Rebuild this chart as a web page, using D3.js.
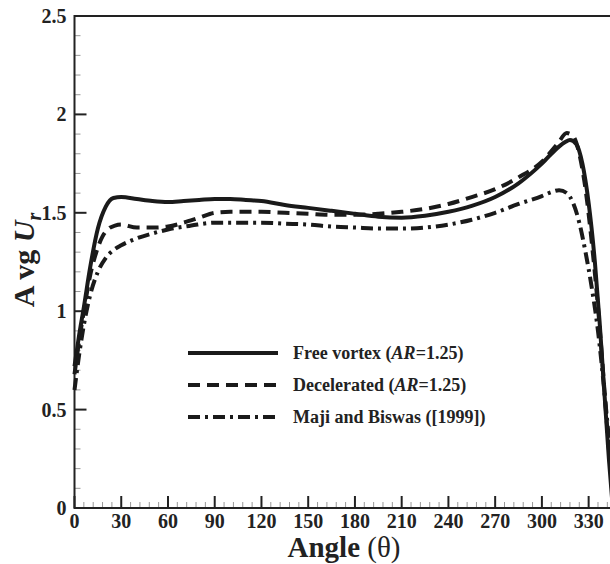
<!DOCTYPE html>
<meta charset="utf-8">
<style>
body { margin: 0; background: white; }
svg { display: block; }
text { font-family: "Liberation Serif", "Times New Roman", serif; font-weight: bold; fill: #222; }
.minor line { stroke: #999; stroke-width: 1px; }
.major line { stroke: #222; stroke-width: 2px; }
</style>
<body>
<script src="https://cdn.jsdelivr.net/npm/d3@7"></script>
<script>
// values (angle in degrees, Avg Ur)
var freeAngles = [0, 3, 6, 10, 15, 20, 25, 30, 40, 50, 60, 70, 80, 90, 100, 110, 120, 135, 150, 165, 180, 195, 210, 225, 240, 255, 270, 285, 300, 310, 315, 318, 322, 326, 330, 334, 337, 340, 343, 345];
var freeVals   = [0.72, 0.88, 1.02, 1.22, 1.42, 1.53, 1.575, 1.58, 1.57, 1.56, 1.555, 1.56, 1.565, 1.57, 1.57, 1.565, 1.56, 1.54, 1.525, 1.51, 1.495, 1.48, 1.475, 1.485, 1.505, 1.535, 1.58, 1.65, 1.75, 1.83, 1.86, 1.87, 1.85, 1.75, 1.55, 1.25, 0.95, 0.6, 0.25, 0.05];

var decelAngles = [0, 3, 6, 10, 14, 18, 22, 26, 30, 40, 50, 60, 70, 80, 90, 100, 110, 120, 135, 150, 165, 180, 195, 210, 225, 240, 255, 270, 285, 300, 310, 316, 320, 324, 328, 332, 336, 339, 342, 345];
var decelVals   = [0.68, 0.85, 1.0, 1.18, 1.3, 1.38, 1.42, 1.435, 1.44, 1.425, 1.425, 1.43, 1.45, 1.475, 1.5, 1.505, 1.505, 1.505, 1.5, 1.495, 1.49, 1.49, 1.495, 1.505, 1.52, 1.545, 1.58, 1.62, 1.68, 1.76, 1.85, 1.905, 1.89, 1.8, 1.62, 1.35, 1.02, 0.72, 0.4, 0.1];

var majiAngles = [0, 3, 6, 10, 15, 20, 25, 30, 40, 50, 60, 75, 90, 105, 120, 135, 150, 165, 180, 195, 210, 225, 240, 255, 270, 285, 300, 306, 311, 316, 320, 324, 328, 332, 336, 340, 343];
var majiVals   = [0.6, 0.78, 0.93, 1.08, 1.2, 1.27, 1.31, 1.335, 1.37, 1.395, 1.415, 1.435, 1.45, 1.45, 1.45, 1.445, 1.44, 1.43, 1.425, 1.42, 1.42, 1.425, 1.44, 1.465, 1.5, 1.545, 1.585, 1.605, 1.615, 1.6, 1.55, 1.45, 1.3, 1.12, 0.9, 0.6, 0.35];

var xTicks = [0, 30, 60, 90, 120, 150, 180, 210, 240, 270, 300, 330, 360];
var xLabels = [0, 30, 60, 90, 120, 150, 180, 210, 240, 270, 300, 330];
var yTicks = [0, 0.5, 1, 1.5, 2, 2.5];

var width = 610, height = 564;
var plotLeft = 74.5, plotTop = 16, plotBottom = 508;

var x = d3.scaleLinear().domain([0, 360]).range([plotLeft, plotLeft + 360 * 1.558]);
var y = d3.scaleLinear().domain([0, 2.5]).range([plotBottom, plotTop]);

var svg = d3.select("body").append("svg")
    .attr("width", width)
    .attr("height", height);

// minor ticks
var xMinor = d3.range(0, 361, 6).filter(function(d) { return d % 30 != 0; });
var yMinor = d3.range(1, 25).map(function(d) { return d / 10; }).filter(function(d, i) { return (i + 1) % 5 != 0; });

var minor = svg.append("g").attr("class", "minor");
minor.selectAll(".xm").data(xMinor).enter().append("line")
    .attr("x1", function(d) { return x(d); }).attr("x2", function(d) { return x(d); })
    .attr("y1", plotBottom).attr("y2", plotBottom - 6);
minor.selectAll(".ym").data(yMinor).enter().append("line")
    .attr("y1", function(d) { return y(d); }).attr("y2", function(d) { return y(d); })
    .attr("x1", plotLeft).attr("x2", plotLeft + 6);

// major ticks
var major = svg.append("g").attr("class", "major");
major.selectAll(".xM").data(xTicks).enter().append("line")
    .attr("x1", function(d) { return x(d); }).attr("x2", function(d) { return x(d); })
    .attr("y1", plotBottom).attr("y2", plotBottom - 12);
major.selectAll(".yM").data(yTicks).enter().append("line")
    .attr("y1", function(d) { return y(d); }).attr("y2", function(d) { return y(d); })
    .attr("x1", plotLeft).attr("x2", plotLeft + 12);

// frame
svg.append("rect")
    .attr("x", plotLeft).attr("y", plotTop)
    .attr("width", x(360) - plotLeft).attr("height", plotBottom - plotTop)
    .attr("fill", "none").attr("stroke", "#222").attr("stroke-width", 2);

// tick labels
svg.selectAll(".xl").data(xLabels).enter().append("text")
    .attr("x", function(d) { return x(d); })
    .attr("y", plotBottom + 20)
    .attr("text-anchor", "middle")
    .style("font-size", "20px")
    .text(function(d) { return d; });

svg.selectAll(".yl").data(yTicks).enter().append("text")
    .attr("x", plotLeft - 8)
    .attr("y", function(d) { return y(d) + 7; })
    .attr("text-anchor", "end")
    .style("font-size", "20px")
    .text(function(d) { return d; });

// axis titles
var xt = svg.append("text")
    .attr("x", 344)
    .attr("y", 557)
    .attr("text-anchor", "middle")
    .style("font-size", "29px");
xt.append("tspan").text("Angle ");
xt.append("tspan").style("font-weight", "normal").text("(\u03b8)");

var yt = svg.append("text")
    .attr("transform", "translate(34,260) rotate(-90)")
    .attr("text-anchor", "middle")
    .style("font-size", "30px");
yt.append("tspan").text("A vg ");
yt.append("tspan").style("font-style", "italic").text("U");
yt.append("tspan").style("font-style", "italic").style("font-size", "20px").attr("dy", 7).text("r");

// curves
var series = [
  { name: "free",  angles: freeAngles,  vals: freeVals,  dash: null },
  { name: "decel", angles: decelAngles, vals: decelVals, dash: "12,7" },
  { name: "maji",  angles: majiAngles,  vals: majiVals,  dash: "12,5,3,5" }
];

var line = d3.line()
    .x(function(d) { return x(d[0]); })
    .y(function(d) { return y(d[1]); })
    .curve(d3.curveMonotoneX);

svg.selectAll(".curve").data(series).enter().append("path")
    .attr("class", "curve")
    .attr("d", function(s) { return line(s.angles.map(function(a, i) { return [a, s.vals[i]]; })); })
    .attr("fill", "none")
    .attr("stroke", "#1a1a1a")
    .attr("stroke-width", 4)
    .attr("stroke-dasharray", function(s) { return s.dash; });

// legend
var legendRows = [
  { dash: null,       parts: [["Free vortex (", false], ["AR", true], ["=1.25)", false]] },
  { dash: "12,7",     parts: [["Decelerated (", false], ["AR", true], ["=1.25)", false]] },
  { dash: "12,5,3,5", parts: [["Maji and Biswas ([1999])", false]] }
];

var lg = svg.selectAll(".leg").data(legendRows).enter().append("g")
    .attr("transform", function(d, i) { return "translate(0," + (353 + i * 32) + ")"; });

lg.append("line")
    .attr("x1", 188).attr("x2", 278)
    .attr("stroke", "#1a1a1a").attr("stroke-width", 4)
    .attr("stroke-dasharray", function(d) { return d.dash; });

lg.append("text")
    .attr("x", 293).attr("y", 6)
    .style("font-size", "18px")
    .each(function(d) {
      var t = d3.select(this);
      d.parts.forEach(function(p) {
        t.append("tspan").style("font-style", p[1] ? "italic" : "normal").text(p[0]);
      });
    });
</script>
